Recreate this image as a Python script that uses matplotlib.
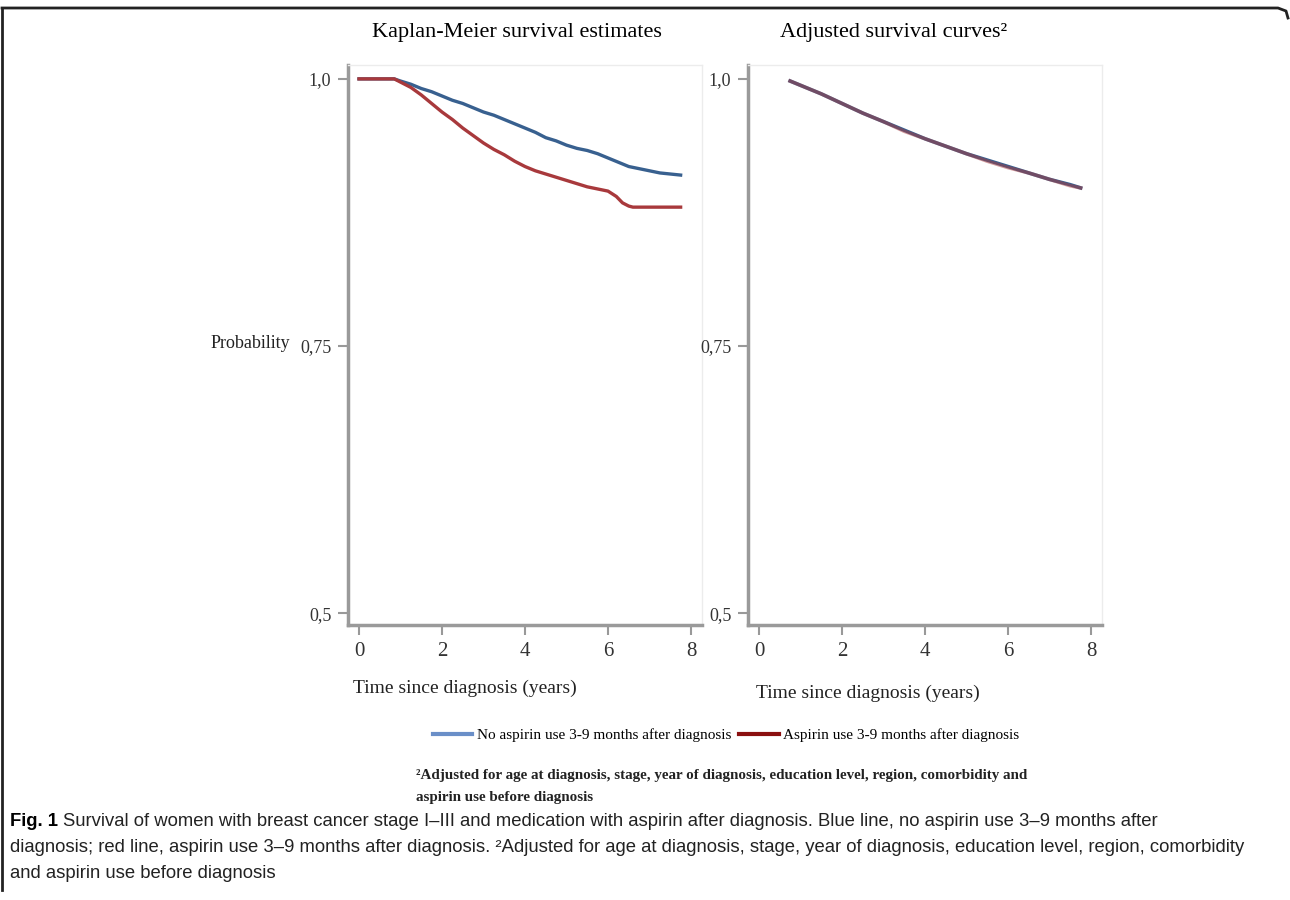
import matplotlib
matplotlib.use("Agg")
import matplotlib.pyplot as plt
from matplotlib.lines import Line2D

plt.rcParams['font.family'] = ['Liberation Serif', 'DejaVu Serif']

# Kaplan-Meier estimates
km_time = [0, 0.85, 1.0, 1.25, 1.5, 1.75, 2.0, 2.25, 2.5, 2.75, 3.0, 3.25, 3.5,
           3.75, 4.0, 4.25, 4.5, 4.75, 5.0, 5.25, 5.5, 5.75, 6.0, 6.25, 6.5,
           6.75, 7.0, 7.25, 7.5, 7.75]
km_no_aspirin = [1.0, 1.0, 0.998, 0.995, 0.991, 0.988, 0.984, 0.980, 0.977,
                 0.973, 0.969, 0.966, 0.962, 0.958, 0.954, 0.950, 0.945, 0.942,
                 0.938, 0.935, 0.933, 0.930, 0.926, 0.922, 0.918, 0.916, 0.914,
                 0.912, 0.911, 0.910]
km_time_red = [0, 0.85, 1.0, 1.25, 1.5, 1.75, 2.0, 2.25, 2.5, 2.75, 3.0, 3.25,
               3.5, 3.75, 4.0, 4.25, 4.5, 4.75, 5.0, 5.25, 5.5, 5.75, 6.0, 6.2,
               6.35, 6.5, 6.6, 7.75]
km_aspirin = [1.0, 1.0, 0.997, 0.992, 0.985, 0.977, 0.969, 0.962, 0.954, 0.947,
              0.940, 0.934, 0.929, 0.923, 0.918, 0.914, 0.911, 0.908, 0.905,
              0.902, 0.899, 0.897, 0.895, 0.890, 0.884, 0.881, 0.880, 0.880]

# adjusted survival curves
adj_time = [0.75, 1.0, 1.5, 2.0, 2.5, 3.0, 3.5, 4.0, 4.5, 5.0, 5.5, 6.0, 6.5,
            7.0, 7.5, 7.75]
adj_no_aspirin = [0.998, 0.994, 0.986, 0.977, 0.968, 0.960, 0.952, 0.944,
                  0.937, 0.930, 0.924, 0.918, 0.912, 0.906, 0.901, 0.898]
adj_aspirin = [0.998, 0.994, 0.986, 0.977, 0.968, 0.960, 0.951, 0.944,
               0.937, 0.930, 0.923, 0.917, 0.912, 0.906, 0.900, 0.898]

yticks = [0.5, 0.75, 1.0]
ytick_labels = ['0,5', '0,75', '1,0']
xticks = [0, 2, 4, 6, 8]

blue = '#38608f'
red = '#a8393c'

fig = plt.figure(figsize=(12.9, 9), dpi=100)
W, H = 1290, 900
ax1 = fig.add_axes([348/W, 1-625/H, 354/W, 560/H])
ax2 = fig.add_axes([748/W, 1-625/H, 354/W, 560/H])

ax1.plot(km_time, km_no_aspirin, color=blue, lw=2.4)
ax1.plot(km_time_red, km_aspirin, color=red, lw=2.4)

ax2.plot(adj_time, adj_no_aspirin, color=blue, lw=2.6)
ax2.plot(adj_time, adj_aspirin, color=red, lw=2.6, alpha=0.5)

for ax in (ax1, ax2):
    ax.set_xlim(-0.265, 8.265)
    ax.set_ylim(0.489, 1.013)
    ax.set_xticks(xticks)
    ax.set_yticks(yticks)
    ax.set_yticklabels(ytick_labels)
    ax.tick_params(axis='both', colors='#999999', labelcolor='#333333',
                   length=7, width=1.5, labelsize=13, pad=5)
    ax.tick_params(axis='x', labelsize=15)
    for s in ('left', 'bottom'):
        ax.spines[s].set_color('#9a9a9a')
        ax.spines[s].set_linewidth(2.5)
    for s in ('top', 'right'):
        ax.spines[s].set_color('#ececec')
        ax.spines[s].set_linewidth(1)

fig.text(517/W, 1-32/H, 'Kaplan-Meier survival estimates', ha='center',
         va='center', fontsize=16)
fig.text(894/W, 1-32/H, 'Adjusted survival curves²', ha='center',
         va='center', fontsize=16)
fig.text(250/W, 1-343/H, 'Probability', ha='center', va='center',
         fontsize=13, color='#222222')
fig.text(465/W, 1-688/H, 'Time since diagnosis (years)', ha='center',
         va='center', fontsize=14, color='#222222')
fig.text(868/W, 1-693/H, 'Time since diagnosis (years)', ha='center',
         va='center', fontsize=14, color='#222222')

handles = [Line2D([], [], color='#6a8fc8', lw=3),
           Line2D([], [], color='#8b1010', lw=3)]
fig.legend(handles, ['No aspirin use 3-9 months after diagnosis',
                     'Aspirin use 3-9 months after diagnosis'],
           loc='center', bbox_to_anchor=(726/W, 1-735/H), ncol=2,
           frameon=False, fontsize=11, handlelength=2.6, handletextpad=0.3,
           columnspacing=0.5)

fig.text(416/W, 1-776/H,
         '²Adjusted for age at diagnosis, stage, year of diagnosis, '
         'education level, region, comorbidity and',
         ha='left', va='center', fontsize=10.8, fontweight='bold', color='#222222')
fig.text(416/W, 1-798/H, 'aspirin use before diagnosis',
         ha='left', va='center', fontsize=10.8, fontweight='bold', color='#222222')

cap = ['Liberation Sans Narrow', 'Liberation Sans', 'DejaVu Sans']
fig.text(10/W, 1-822/H, 'Fig. 1', ha='left', va='center', fontsize=13.3,
         fontweight='bold', family=cap)
fig.text(63/W, 1-822/H,
         'Survival of women with breast cancer stage I\u2013III and medication '
         'with aspirin after diagnosis. Blue line, no aspirin use 3\u20139 months after',
         ha='left', va='center', fontsize=13.3, family=cap, color='#222222')
fig.text(10/W, 1-848/H,
         'diagnosis; red line, aspirin use 3\u20139 months after diagnosis. '
         '²Adjusted for age at diagnosis, stage, year of diagnosis, education '
         'level, region, comorbidity',
         ha='left', va='center', fontsize=13.3, family=cap, color='#222222')
fig.text(10/W, 1-874/H, 'and aspirin use before diagnosis', ha='left',
         va='center', fontsize=13.3, family=cap, color='#222222')

# outer frame: top line, left line, rounded top-right corner
fig.add_artist(Line2D([2/W, 2/W], [1-8/H, 1-890/H], color='#222222', lw=2,
                      transform=fig.transFigure))
fig.add_artist(Line2D([2/W, 1278/W, 1286/W, 1288/W],
                      [1-8/H, 1-8/H, 1-11/H, 1-18/H], color='#222222', lw=2,
                      transform=fig.transFigure))

fig.savefig('out.png', dpi=100)
